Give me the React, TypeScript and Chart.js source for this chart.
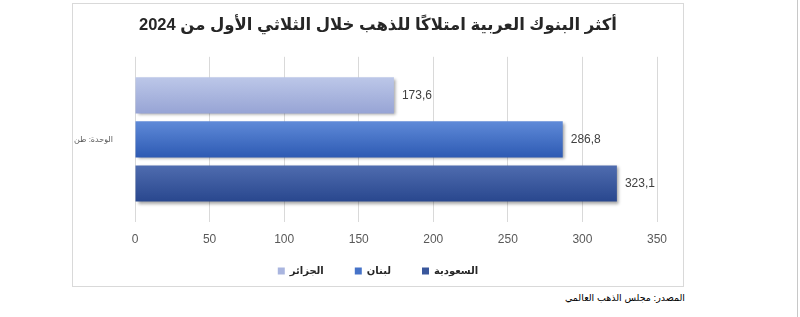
import React, { useEffect, useRef } from "react";
import { Chart, registerables } from "chart.js";

Chart.register(...registerables);

const categories = ["الوحدة: طن"];
const seriesNames = ["الجزائر", "لبنان", "السعودية"];
const algeria = [173.6];
const lebanon = [286.8];
const saudi = [323.1];
const xMin = 0;
const xMax = 350;
const xStep = 50;
const titleText = "أكثر البنوك العربية امتلاكًا للذهب خلال الثلاثي الأول من 2024";
const sourceText = "المصدر: مجلس الذهب العالمي";

const flatColors = ["#a9b5df", "#4673c8", "#3a579c"];
const gradients = [
  ["#bcc7e8", "#97a4d5"],
  ["#5f8ad8", "#2d5ab3"],
  ["#4f6caf", "#29478e"],
];

const FONT = "Arial, 'Liberation Sans', 'DejaVu Sans', sans-serif";

const barFx = {
  id: "barFx",
  afterLayout(chart: any) {
    // let tick labels overflow the squeezed axis box, and centre title/legend on the full canvas
    const sx = chart.scales.x;
    if (sx) sx.bottom = chart.height;
    if (chart.legend) {
      chart.legend.left = 0;
      chart.legend.right = chart.width;
    }
    if (chart.titleBlock) {
      chart.titleBlock.left = 0;
      chart.titleBlock.right = chart.width;
    }
  },
  beforeDatasetsDraw(chart: any) {
    const ctx = chart.ctx;
    chart.data.datasets.forEach((_ds: any, di: number) => {
      const meta = chart.getDatasetMeta(di);
      meta.data.forEach((el: any) => {
        const { y, height } = el.getProps(["y", "height"], true);
        const g = ctx.createLinearGradient(0, y - height / 2, 0, y + height / 2);
        g.addColorStop(0, gradients[di][0]);
        g.addColorStop(1, gradients[di][1]);
        el.options = Object.assign({}, el.options, { backgroundColor: g });
      });
    });
  },
  beforeDatasetDraw(chart: any) {
    const ctx = chart.ctx;
    ctx.save();
    ctx.shadowColor = "rgba(0,0,0,0.35)";
    ctx.shadowBlur = 3;
    ctx.shadowOffsetX = 2;
    ctx.shadowOffsetY = 2;
  },
  afterDatasetDraw(chart: any) {
    chart.ctx.restore();
  },
  afterDatasetsDraw(chart: any) {
    const ctx = chart.ctx;
    ctx.save();
    ctx.font = `12px ${FONT}`;
    ctx.fillStyle = "#404040";
    ctx.textAlign = "left";
    ctx.textBaseline = "middle";
    chart.data.datasets.forEach((ds: any, di: number) => {
      const meta = chart.getDatasetMeta(di);
      meta.data.forEach((el: any, i: number) => {
        const { x, y } = el.getProps(["x", "y"], true);
        const v = ds.data[i] as number;
        ctx.fillText(v.toFixed(1).replace(".", ","), x + 8, y);
      });
    });
    ctx.restore();
  },
};

export default function App() {
  const ref = useRef<HTMLCanvasElement>(null);

  useEffect(() => {
    const chart = new Chart(ref.current!, {
      type: "bar",
      data: {
        labels: categories,
        datasets: [
          { label: seriesNames[0], data: algeria, backgroundColor: flatColors[0] },
          { label: seriesNames[1], data: lebanon, backgroundColor: flatColors[1] },
          { label: seriesNames[2], data: saudi, backgroundColor: flatColors[2] },
        ],
      },
      options: {
        indexAxis: "y",
        responsive: false,
        animation: false,
        devicePixelRatio: 1,
        layout: { padding: { top: 0, right: 26, bottom: 0, left: 0 } },
        datasets: {
          bar: { categoryPercentage: 0.8, barPercentage: 0.82, borderWidth: 0 },
        },
        scales: {
          x: {
            type: "linear",
            min: xMin,
            max: xMax,
            ticks: {
              stepSize: xStep,
              color: "#595959",
              font: { size: 12, family: FONT },
              padding: 10,
            },
            grid: { color: "#d9d9d9", drawTicks: false },
            border: { display: false },
            afterFit: (s: any) => {
              s.height = 13;
            },
          },
          y: {
            type: "category",
            ticks: {
              color: "#595959",
              font: { size: 8, family: FONT },
              padding: 14,
            },
            grid: { display: false },
            border: { display: false },
            afterFit: (s: any) => {
              s.width = 62;
            },
          },
        },
        plugins: {
          title: {
            display: true,
            text: titleText,
            color: "#262626",
            font: { size: 16.5, weight: "bold", family: FONT },
            padding: { top: 12, bottom: 21 },
          },
          legend: {
            position: "bottom",
            labels: {
              boxWidth: 7,
              boxHeight: 7,
              padding: 31,
              color: "#262626",
              font: { size: 10, weight: "bold", family: FONT },
            },
          },
          tooltip: { enabled: false },
        },
      },
      plugins: [barFx],
    } as any);
    return () => chart.destroy();
  }, []);

  return (
    <div>
      <div
        style={{
          position: "absolute",
          left: 72,
          top: 3,
          width: 612,
          height: 284,
          boxSizing: "border-box",
          border: "1px solid #d9d9d9",
          background: "#fff",
        }}
      >
        <canvas ref={ref} width={610} height={282} style={{ display: "block", width: 610, height: 282 }} />
      </div>
      <div
        style={{
          position: "absolute",
          top: 292,
          right: 115,
          fontSize: 9.5,
          fontFamily: FONT,
          direction: "rtl",
          color: "#000",
          whiteSpace: "nowrap",
        }}
      >
        {sourceText}
      </div>
      <div style={{ position: "absolute", left: 797, top: 0, width: 1, height: 317, background: "#c8c8c8" }} />
    </div>
  );
}
